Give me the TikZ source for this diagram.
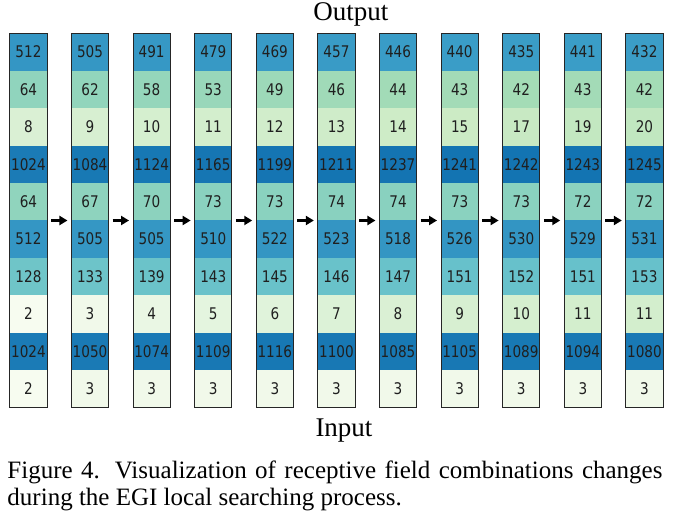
\documentclass[tikz,border=0pt]{standalone}
\usepackage{fontspec}
\setmainfont{Liberation Serif}
\newfontfamily\numfont{DejaVu Sans}
\usetikzlibrary{positioning,arrows.meta}

% GnBu stops
\definecolor{gnbu0}{RGB}{247,252,240}
\definecolor{gnbu1}{RGB}{224,243,219}
\definecolor{gnbu2}{RGB}{204,235,197}
\definecolor{gnbu3}{RGB}{168,221,181}
\definecolor{gnbu4}{RGB}{123,204,196}
\definecolor{gnbu5}{RGB}{78,179,211}
\definecolor{gnbu6}{RGB}{43,140,190}
\definecolor{gnbu7}{RGB}{8,104,172}
\definecolor{gnbu8}{RGB}{8,64,129}
\colorlet{cellfill}{gnbu0}

\newcommand{\tallnum}[1]{\scalebox{1}[1.18]{#1}}

\begin{document}
\begin{tikzpicture}[
        x=1pt, y=-1pt,
        cell/.style={
            minimum width=37.3pt, minimum height=37.5pt,
            inner sep=0pt, fill=cellfill, text=black!88,
            font=\numfont\fontsize{13.6}{13.6}\selectfont
        },
        colbox/.style={
            draw=black!85, line width=0.9pt,
            minimum width=37.3pt, minimum height=374.3pt, inner sep=0pt
        },
        flow/.style={
            -{Triangle[length=8pt,width=9pt]}, line width=3pt,
            shorten <=3.5pt, shorten >=3.5pt
        },
        title/.style={font=\fontsize{27}{30}\selectfont, inner sep=0pt}
    ]
    \useasboundingbox (0,0) rectangle (673,519);

    \foreach \vals [count=\i from 0] in {
        {512,64,8,1024,64,512,128,2,1024,2},
        {505,62,9,1084,67,505,133,3,1050,3},
        {491,58,10,1124,70,505,139,4,1074,3},
        {479,53,11,1165,73,510,143,5,1109,3},
        {469,49,12,1199,73,522,145,6,1116,3},
        {457,46,13,1211,74,523,146,7,1100,3},
        {446,44,14,1237,74,518,147,8,1085,3},
        {440,43,15,1241,73,526,151,9,1105,3},
        {435,42,17,1242,73,530,152,10,1089,3},
        {441,43,19,1243,72,529,151,11,1094,3},
        {432,42,20,1245,72,531,153,11,1080,3}}{
        \pgfmathsetmacro\cx{28.45+61.6*\i}
        \foreach \v [count=\j from 0] in \vals {
            % log scale into the colour map
            \pgfmathsetmacro\s{min(max(1.0616*ln(\v)-0.888,0),7.999)}
            \pgfmathtruncatemacro\lo{\s}
            \pgfmathtruncatemacro\hi{\lo+1}
            \pgfmathsetmacro\pc{100*(\s-\lo)}
            \colorlet{cellfill}{gnbu\hi!\pc!gnbu\lo}
            \node[cell] (c\i-\j) at (\cx, 52.0+37.43*\j) {\tallnum{\v}};
        }
        \node[colbox] (col-\i) at (\cx, 220.5) {};
    }

    \foreach \i [evaluate=\i as \j using int(\i+1)] in {0,...,9}
        \draw[flow] (col-\i) -- (col-\j);

    \node[title, anchor=base] (output) at (350.8,20.7) {Output};
    \node[title, anchor=base] (input) at (344,436.7) {Input};

    \node[anchor=north west, text width=655pt, align=justify, inner sep=0pt,
        font=\fontsize{25}{27.5}\selectfont] (caption) at (7.3,460.2)
        {Figure 4. Visualization of receptive field combinations changes during the EGI local searching process.};
\end{tikzpicture}
\end{document}
